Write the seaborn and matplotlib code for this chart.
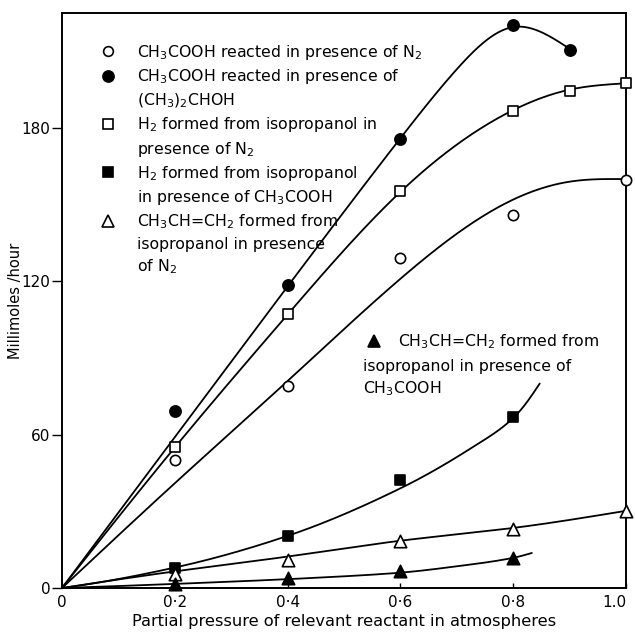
import numpy as np
import pandas as pd
import matplotlib
matplotlib.use("Agg")
import matplotlib.pyplot as plt
import seaborn as sns
from matplotlib.lines import Line2D

sns.set_style("ticks")
plt.rcParams['font.family'] = ['DejaVu Sans']
plt.rcParams['mathtext.default'] = 'regular'
plt.rcParams['text.color'] = 'black'
plt.rcParams['axes.labelcolor'] = 'black'
plt.rcParams['xtick.color'] = 'black'
plt.rcParams['ytick.color'] = 'black'
plt.rcParams['axes.edgecolor'] = 'black'

# ---- measured points ----
ac_n2_x = [0.2, 0.4, 0.6, 0.8, 1.0]
ac_n2_y = [50.2, 79.2, 129.0, 146.0, 159.6]
ac_ipa_x = [0.2, 0.4, 0.6, 0.8, 0.9]
ac_ipa_y = [69.4, 118.4, 175.6, 220.4, 210.6]
h2_n2_x = [0.2, 0.4, 0.6, 0.8, 0.9, 1.0]
h2_n2_y = [55.3, 107.4, 155.2, 186.7, 194.6, 197.5]
h2_ac_x = [0.2, 0.4, 0.6, 0.8]
h2_ac_y = [7.8, 20.4, 42.4, 67.1]
pr_n2_x = [0.2, 0.4, 0.6, 0.8, 1.0]
pr_n2_y = [5.5, 11.0, 18.4, 23.1, 30.2]
pr_ac_x = [0.2, 0.4, 0.6, 0.8]
pr_ac_y = [1.6, 3.9, 6.7, 11.8]

# ---- fitted curve knots ----
c_ac_n2_x = [0, 0.2, 0.4, 0.6, 0.8, 0.9, 1.0]
c_ac_n2_y = [0, 41, 81, 121, 152, 159, 160]
c_ac_ipa_x = [0, 0.2, 0.4, 0.6, 0.7, 0.8, 0.9]
c_ac_ipa_y = [0, 59, 118, 176, 203, 219.5, 211]
c_h2_n2_x = [0, 0.2, 0.4, 0.6, 0.8, 0.9, 1.0]
c_h2_n2_y = [0, 55, 107, 155, 187, 195, 197.5]
c_h2_ac_x = [0, 0.2, 0.4, 0.6, 0.723, 0.8, 0.847]
c_h2_ac_y = [0, 8, 20.4, 39, 54.4, 66.5, 80]
c_pr_n2_x = [0, 0.2, 0.4, 0.6, 0.8, 1.0]
c_pr_n2_y = [0, 6.5, 12.3, 18.5, 23.5, 30.2]
c_pr_ac_x = [0, 0.2, 0.45, 0.6, 0.7, 0.8, 0.833]
c_pr_ac_y = [0, 1.6, 4.0, 6.0, 8.5, 11.8, 13.7]

x_ticks = [0, 0.2, 0.4, 0.6, 0.8, 1.0]
x_ticklabels = ["0", "0·2", "0·4", "0·6", "0·8", "1.0"]
y_ticks = [0, 60, 120, 180]


def spline(xk, yk, xs):
    xk = np.asarray(xk, float); yk = np.asarray(yk, float)
    n = len(xk); h = np.diff(xk)
    A = np.zeros((n, n)); r = np.zeros(n)
    A[0, 0] = A[-1, -1] = 1
    for i in range(1, n - 1):
        A[i, i - 1] = h[i - 1]; A[i, i] = 2 * (h[i - 1] + h[i]); A[i, i + 1] = h[i]
        r[i] = 3 * ((yk[i + 1] - yk[i]) / h[i] - (yk[i] - yk[i - 1]) / h[i - 1])
    c = np.linalg.solve(A, r)
    b = (yk[1:] - yk[:-1]) / h - h * (2 * c[:-1] + c[1:]) / 3
    d = (c[1:] - c[:-1]) / (3 * h)
    idx = np.clip(np.searchsorted(xk, xs) - 1, 0, n - 2)
    dx = xs - xk[idx]
    return yk[idx] + b[idx] * dx + c[idx] * dx ** 2 + d[idx] * dx ** 3


def pchip(xk, yk, xs):
    x = np.asarray(xk, float); y = np.asarray(yk, float)
    h = np.diff(x); dlt = np.diff(y) / h
    n = len(x); d = np.zeros(n)
    for k in range(1, n - 1):
        if dlt[k - 1] * dlt[k] > 0:
            w1 = 2 * h[k] + h[k - 1]; w2 = h[k] + 2 * h[k - 1]
            d[k] = (w1 + w2) / (w1 / dlt[k - 1] + w2 / dlt[k])
    d[0] = ((2 * h[0] + h[1]) * dlt[0] - h[0] * dlt[1]) / (h[0] + h[1])
    if np.sign(d[0]) != np.sign(dlt[0]):
        d[0] = 0
    d[-1] = ((2 * h[-1] + h[-2]) * dlt[-1] - h[-1] * dlt[-2]) / (h[-1] + h[-2])
    if np.sign(d[-1]) != np.sign(dlt[-1]):
        d[-1] = 0
    idx = np.clip(np.searchsorted(x, xs) - 1, 0, n - 2)
    t = (xs - x[idx]) / h[idx]
    h00 = 2 * t ** 3 - 3 * t ** 2 + 1; h10 = t ** 3 - 2 * t ** 2 + t
    h01 = -2 * t ** 3 + 3 * t ** 2; h11 = t ** 3 - t ** 2
    return (h00 * y[idx] + h10 * h[idx] * d[idx] + h01 * y[idx + 1]
            + h11 * h[idx] * d[idx + 1])


fig = plt.figure(figsize=(6.35, 6.33), dpi=100)
ax = fig.add_axes([62 / 635, 1 - 588 / 633, 564 / 635, 575 / 633])

curves = [(c_ac_n2_x, c_ac_n2_y, spline), (c_ac_ipa_x, c_ac_ipa_y, spline),
          (c_h2_n2_x, c_h2_n2_y, spline), (c_h2_ac_x, c_h2_ac_y, pchip),
          (c_pr_n2_x, c_pr_n2_y, spline), (c_pr_ac_x, c_pr_ac_y, pchip)]
for kx, ky, f in curves:
    xs = np.linspace(kx[0], kx[-1], 400)
    df = pd.DataFrame({"x": xs, "y": f(kx, ky, xs)})
    sns.lineplot(data=df, x="x", y="y", ax=ax, color="black", linewidth=1.3,
                 sort=False, estimator=None)

series = [
    (ac_n2_x, ac_n2_y, "o", "white", 55),
    (ac_ipa_x, ac_ipa_y, "o", "black", 65),
    (h2_n2_x, h2_n2_y, "s", "white", 55),
    (h2_ac_x, h2_ac_y, "s", "black", 55),
    (pr_n2_x, pr_n2_y, "^", "white", 80),
    (pr_ac_x, pr_ac_y, "^", "black", 80),
]
for xv, yv, m, fc, s in series:
    sns.scatterplot(x=xv, y=yv, ax=ax, marker=m, s=s, facecolor=fc,
                    edgecolor="black", linewidth=1.2, zorder=5, clip_on=False)

ax.set_xlim(0, 1.0)
ax.set_ylim(0, 225)
ax.set_xticks(x_ticks)
ax.set_xticklabels(x_ticklabels)
ax.get_xticklabels()[-1].set_horizontalalignment("right")
ax.set_yticks(y_ticks)
ax.tick_params(axis="x", direction="in", length=3.5, width=1, labelsize=11, pad=5)
ax.tick_params(axis="y", direction="out", length=7, width=1, labelsize=11, pad=1.5)
for sp in ax.spines.values():
    sp.set_linewidth(1.4)
ax.set_xlabel("Partial pressure of relevant reactant in atmospheres", fontsize=11.7, labelpad=3)
ax.set_ylabel("Millimoles /hour", fontsize=10.5)
ax.yaxis.set_label_coords(-0.07, 0.5)

blank = Line2D([], [], linestyle="none", marker=None)
def mk(m, fc, ms):
    return Line2D([], [], linestyle="none", marker=m, markersize=ms,
                  markerfacecolor=fc, markeredgecolor="black", markeredgewidth=1.2)

handles = [mk("o", "white", 7), mk("o", "black", 8), blank, mk("s", "white", 7), blank,
           mk("s", "black", 7), blank, mk("^", "white", 9), blank, blank]
labels = [r"CH$_3$COOH reacted in presence of N$_2$",
          r"CH$_3$COOH reacted in presence of",
          r"(CH$_3$)$_2$CHOH",
          r"H$_2$ formed from isopropanol in",
          r"presence of N$_2$",
          r"H$_2$ formed from isopropanol",
          r"in presence of CH$_3$COOH",
          r"CH$_3$CH=CH$_2$ formed from",
          r"isopropanol in presence",
          r"of N$_2$"]
fs = 11.3
leg = ax.legend(handles, labels, loc="upper left", bbox_to_anchor=(0.067, 0.948),
                frameon=False, fontsize=fs, handlelength=1.0, handletextpad=1.35,
                labelspacing=0.34, borderpad=0, borderaxespad=0)
ax.add_artist(leg)

leg2 = ax.legend([mk("^", "black", 9)], [r"CH$_3$CH=CH$_2$ formed from"],
                 loc="upper left", bbox_to_anchor=(0.54, 0.445), frameon=False,
                 fontsize=fs, handlelength=1.0, handletextpad=1.0, borderpad=0,
                 borderaxespad=0)
ax.text(0.533, 0.386, "isopropanol in presence of", transform=ax.transAxes,
        fontsize=fs, va="center", ha="left")
ax.text(0.533, 0.347, r"CH$_3$COOH", transform=ax.transAxes,
        fontsize=fs, va="center", ha="left")

fig.savefig("out.png", dpi=100)
